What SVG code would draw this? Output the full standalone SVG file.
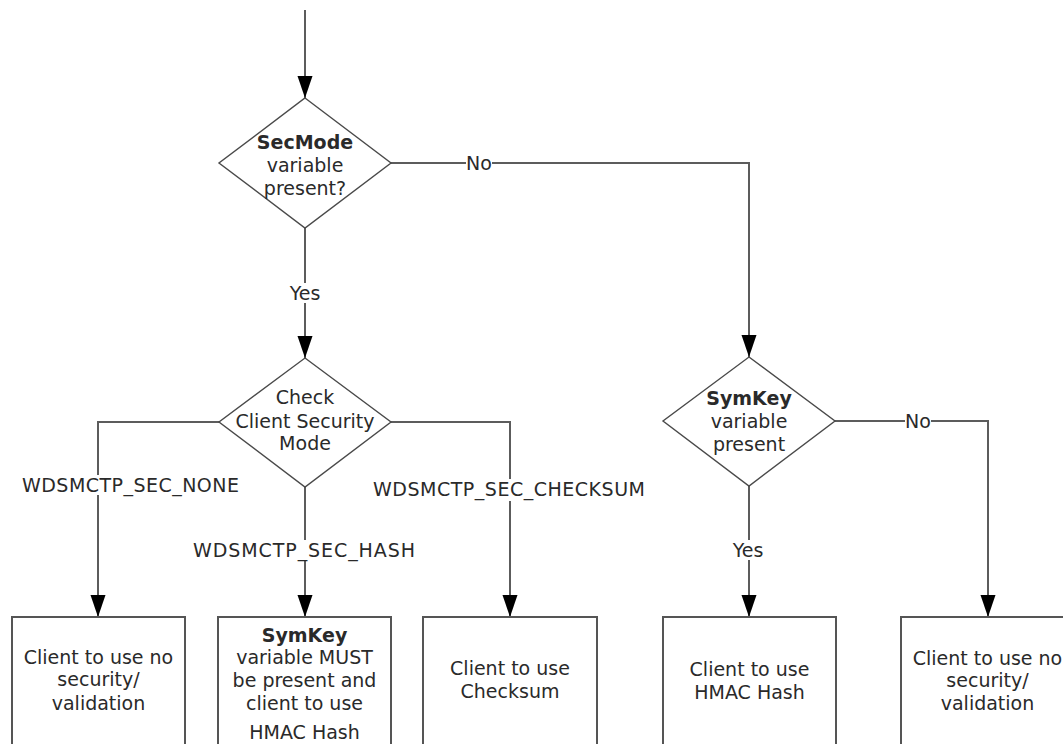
<svg xmlns="http://www.w3.org/2000/svg" width="1063" height="744" viewBox="0 0 1063 744">
<style>
  text { font-family: "DejaVu Sans", Verdana, sans-serif; font-size: 19px; fill: #2a2a2a; text-anchor: middle; }
  .b { font-weight: bold; }
  .dia { fill: #fff; stroke: #4a4a4a; stroke-width: 1.4; }
  .box { fill: #fff; stroke: #555; stroke-width: 2; }
  .con { fill: none; stroke: #5c5c5c; stroke-width: 2; marker-end: url(#ah); }
  .lbg { fill: #fff; }
</style>
<defs>
  <marker id="ah" markerUnits="userSpaceOnUse" markerWidth="24" markerHeight="18" viewBox="-23 -8 24 16" refX="0" refY="0" orient="auto">
    <path d="M0,0 L-22,-7.5 L-22,7.5 Z" fill="#000"/>
  </marker>
</defs>
<rect width="1063" height="744" fill="#fff"/>

<g id="connectors">
  <path class="con" d="M305,10 V98"/>
  <path class="con" d="M391,163 H749 V357"/>
  <path class="con" d="M305,228 V358"/>
  <path class="con" d="M219,422 H98 V617"/>
  <path class="con" d="M305,487 V617"/>
  <path class="con" d="M391,422 H510 V617"/>
  <path class="con" d="M749,486 V617"/>
  <path class="con" d="M835,421 H988 V617"/>
  <g id="labels">
    <rect class="lbg" x="466" y="153" width="26" height="20"/>
    <text x="479" y="169.5">No</text>
    <rect class="lbg" x="288" y="283" width="34" height="20"/>
    <text x="305" y="299.5">Yes</text>
    <rect class="lbg" x="22" y="475" width="217" height="20"/>
    <text x="130.5" y="491.5" textLength="217" lengthAdjust="spacing">WDSMCTP_SEC_NONE</text>
    <rect class="lbg" x="193" y="540" width="222" height="20"/>
    <text x="304" y="556.5" textLength="222" lengthAdjust="spacing">WDSMCTP_SEC_HASH</text>
    <rect class="lbg" x="373" y="479" width="272" height="22"/>
    <text x="509" y="495.5" textLength="272" lengthAdjust="spacing">WDSMCTP_SEC_CHECKSUM</text>
    <rect class="lbg" x="731" y="540" width="34" height="20"/>
    <text x="748" y="556.5">Yes</text>
    <rect class="lbg" x="905" y="411" width="26" height="20"/>
    <text x="918" y="427.5">No</text>
  </g>
</g>

<g id="secmode">
  <polygon class="dia" points="305,98 391,163 305,228 219,163"/>
  <text class="b" x="305" y="148.5">SecMode</text>
  <text x="305" y="171.5">variable</text>
  <text x="305" y="194.5">present?</text>
</g>

<g id="checkmode">
  <polygon class="dia" points="305,358 391,422 305,487 219,422"/>
  <text x="305" y="403.5">Check</text>
  <text x="305" y="427.5">Client Security</text>
  <text x="305" y="449.5">Mode</text>
</g>

<g id="symkey">
  <polygon class="dia" points="749,357 835,421 749,486 663,421"/>
  <text class="b" x="749" y="404.5">SymKey</text>
  <text x="749" y="427.5">variable</text>
  <text x="749" y="450.5">present</text>
</g>

<g id="box-none">
  <rect class="box" x="12" y="617" width="173" height="160"/>
  <text x="98.5" y="663.5">Client to use no</text>
  <text x="98.5" y="686">security/</text>
  <text x="98.5" y="709.5">validation</text>
</g>

<g id="box-hash">
  <rect class="box" x="218" y="617" width="173" height="160"/>
  <text class="b" x="304.5" y="641.5">SymKey</text>
  <text x="304.5" y="663.5">variable MUST</text>
  <text x="304.5" y="686.5">be present and</text>
  <text x="304.5" y="709.5">client to use</text>
  <text x="304.5" y="739">HMAC Hash</text>
</g>

<g id="box-checksum">
  <rect class="box" x="423" y="617" width="174" height="160"/>
  <text x="510" y="674.5">Client to use</text>
  <text x="510" y="697.5">Checksum</text>
</g>

<g id="box-hmac">
  <rect class="box" x="663" y="617" width="173" height="160"/>
  <text x="749.5" y="675.5">Client to use</text>
  <text x="749.5" y="698.5">HMAC Hash</text>
</g>

<g id="box-none2">
  <rect class="box" x="901" y="617" width="173" height="160"/>
  <text x="987.5" y="664.5">Client to use no</text>
  <text x="987.5" y="686.5">security/</text>
  <text x="987.5" y="709.5">validation</text>
</g>
</svg>
